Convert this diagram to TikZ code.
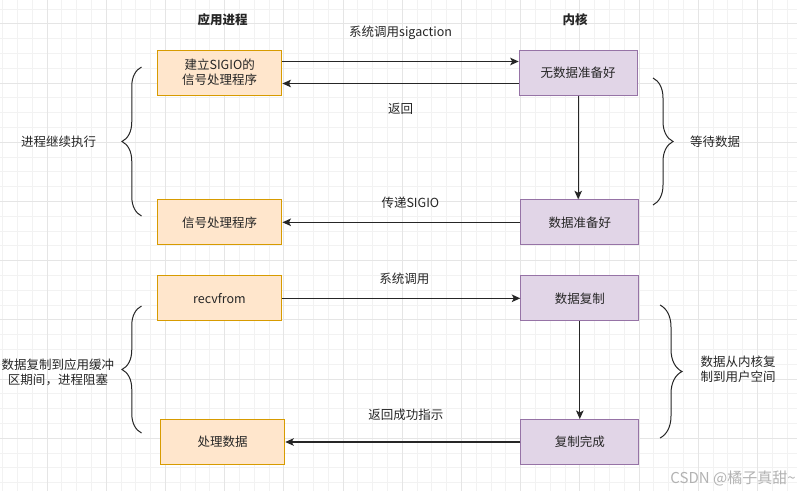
\documentclass[tikz,border=0pt]{standalone}
\usepackage{fontspec}
\setmainfont{Noto Sans CJK SC}
\usetikzlibrary{arrows.meta, decorations.pathreplacing, positioning}
\definecolor{appfill}{HTML}{FFE6CC}
\definecolor{appline}{HTML}{D79B00}
\definecolor{kernfill}{HTML}{E1D5E7}
\definecolor{kernline}{HTML}{9673A6}
\tikzset{
    every node/.style={font=\fontsize{12.5}{15}\selectfont, text=black!85}, % text size of all labels
    appbox/.style={draw=appline, fill=appfill, line width=1pt, minimum width=124.5pt, minimum height=45pt, align=center, inner sep=0pt}, % boxes of the user process
    kernbox/.style={draw=kernline, fill=kernfill, line width=1pt, minimum width=118pt, minimum height=45pt, align=center, inner sep=0pt}, % boxes of the kernel
    flow/.style={-{Stealth[length=8.5pt, width=7.5pt, inset=2pt]}, line width=1.2pt, draw=black!85}, % the calls and returns
    curly/.style={decorate, decoration={brace, amplitude=#1}, line width=1pt, draw=black!85}, % the side braces
    gridminor/.style={draw=black!5, line width=0.6pt},
    gridmajor/.style={draw=black!10, line width=0.6pt},
}

\begin{document}
\begin{tikzpicture}[x=1pt, y=-1pt]
    \fill[white] (0,0) rectangle (797,491);
    \useasboundingbox (0,0) rectangle (797,491);
    % background grid
    \foreach \i in {0,...,53} \draw[gridminor] ({2.4+14.8*\i},0) -- ({2.4+14.8*\i},491);
    \foreach \j in {0,...,32} \draw[gridminor] (0,{8.8+14.8*\j}) -- (797,{8.8+14.8*\j});
    \foreach \i in {0,...,12} \draw[gridmajor] ({46.8+59.2*\i},0) -- ({46.8+59.2*\i},491);
    \foreach \j in {0,...,7} \draw[gridmajor] (0,{23.6+59.2*\j}) -- (797,{23.6+59.2*\j});

    % titles
    \node[font=\fontsize{12.5}{15}\selectfont\bfseries] (apptitle) at (222.5,20) {应用进程};
    \node[font=\fontsize{12.5}{15}\selectfont\bfseries] (kerntitle) at (575,20) {内核};

    % signal driven part
    \node[appbox] (setup) at (219.7,72.5) {建立SIGIO的\\信号处理程序};
    \node[kernbox] (nodata) at (578.2,72.5) {无数据准备好};
    \node[appbox] (handler) at (219.7,222.3) {信号处理程序};
    \node[kernbox] (ready) at (579.8,222.3) {数据准备好};

    \draw[flow] ([yshift=11pt]setup.east) -- node[yshift=29pt] {系统调用sigaction} ([yshift=11pt]nodata.west);
    \draw[flow] ([yshift=-11pt]nodata.west) -- node[yshift=-25.5pt] {返回} ([yshift=-11pt]setup.east);
    \draw[flow] (nodata.south) -- (nodata.south |- ready.north);
    \draw[flow] (ready.west) -- node[yshift=20pt, xshift=9pt] {传递SIGIO} (handler.east);

    % copy part
    \node[appbox] (recv) at (219.5,298.3) {recvfrom};
    \node[kernbox] (copy) at (579.8,298.3) {数据复制};
    \node[appbox] (process) at (222.5,442) {处理数据};
    \node[kernbox] (done) at (579.8,442) {复制完成};

    \draw[flow] (recv.east) -- node[yshift=20pt, xshift=3pt] {系统调用} (copy.west);
    \draw[flow] (copy.south) -- (copy.south |- done.north);
    \draw[flow] (done.west) -- node[yshift=27.7pt, xshift=3pt] {返回成功指示} (process.east);

    % braces and what they stand for
    \coordinate (runtop) at (141.5,67);
    \coordinate (runbot) at (141.5,216);
    \coordinate (waittop) at (653,78);
    \coordinate (waitbot) at (653,205);
    \coordinate (blocktop) at (141.5,306);
    \coordinate (blockbot) at (141.5,433);
    \coordinate (copytop) at (660,305);
    \coordinate (copybot) at (660,438);
    \draw[curly=19.5pt] (runbot) -- (runtop);
    \draw[curly=20pt] (waittop) -- (waitbot);
    \draw[curly=19.5pt] (blockbot) -- (blocktop);
    \draw[curly=22pt] (copytop) -- (copybot);

    \node (runlabel) at (58.5,142) {进程继续执行};
    \node (waitlabel) at (715,142) {等待数据};
    \node[align=center] (blocklabel) at (58,372.5) {数据复制到应用缓冲\\区期间，进程阻塞};
    \node[align=center] (copylabel) at (738,369.5) {数据从内核复\\制到用户空间};

    \node[font=\fontsize{15}{17}\selectfont, text=black!30] (mark) at (733,478) {CSDN @橘子真甜\textasciitilde};
\end{tikzpicture}
\end{document}
